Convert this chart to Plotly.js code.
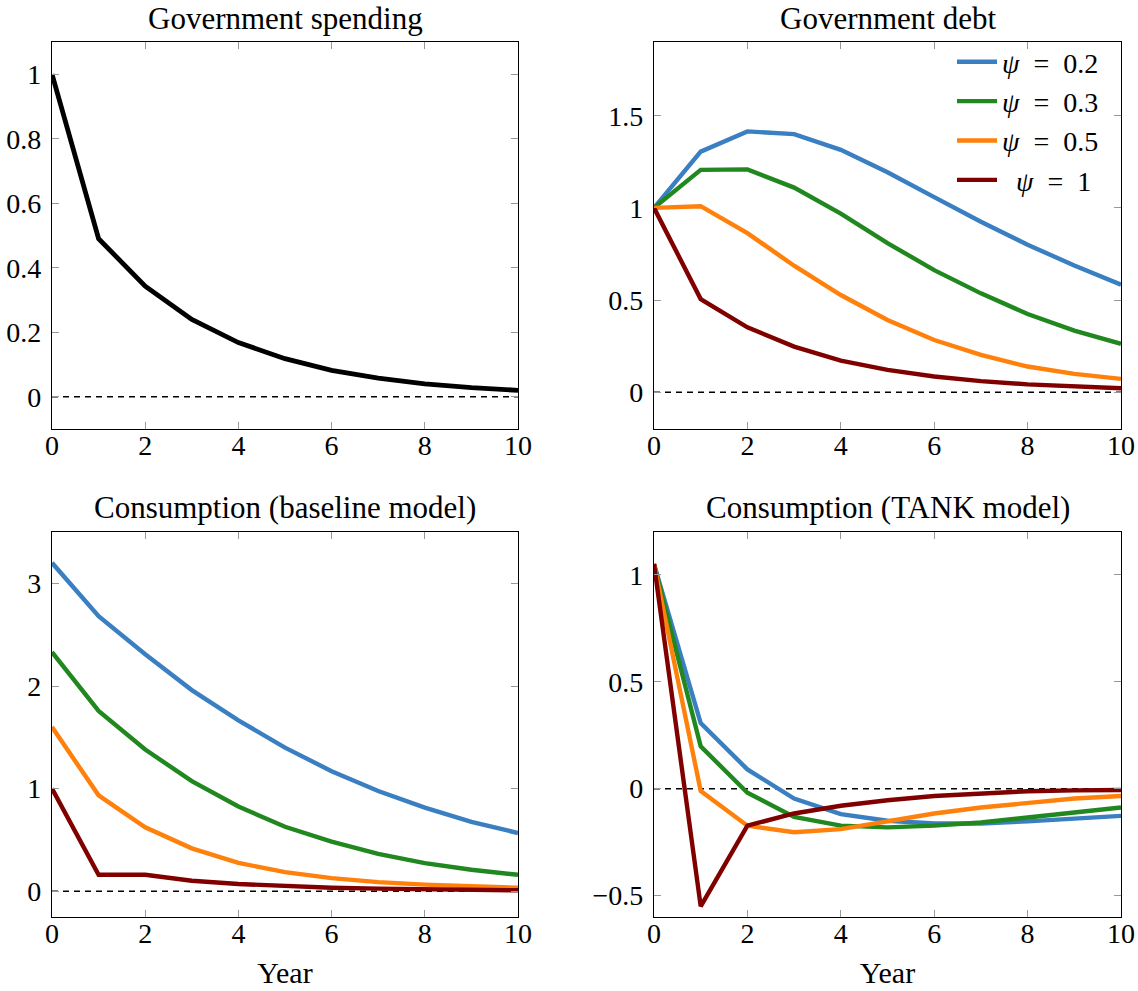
<!DOCTYPE html>
<html>
<head>
<meta charset="utf-8">
<script src="https://cdn.plot.ly/plotly-3.0.1.min.js"></script>
<style>html,body{margin:0;padding:0;background:#fff;}#chart{width:1138px;height:991px;}</style>
</head>
<body>
<div id="chart"></div>
<script>
// ---------- data ----------
const years = [0, 1, 2, 3, 4, 5, 6, 7, 8, 9, 10];
const seriesNames = ['<i>ψ</i>\u2002=\u20020.2', '<i>ψ</i>\u2002=\u20020.3', '<i>ψ</i>\u2002=\u20020.5', '\u2002<i>ψ</i>\u2002=\u20021'];
const seriesColors = ['#3a7fc1', '#21871f', '#ff800a', '#800000'];

const govSpending = [1.0, 0.49, 0.343, 0.24, 0.168, 0.118, 0.082, 0.058, 0.040, 0.028, 0.020];

const debtPsi02 = [1.0, 1.305, 1.415, 1.40, 1.315, 1.193, 1.058, 0.925, 0.80, 0.687, 0.583];
const debtPsi03 = [1.0, 1.206, 1.209, 1.11, 0.969, 0.809, 0.662, 0.536, 0.424, 0.334, 0.262];
const debtPsi05 = [1.0, 1.009, 0.863, 0.686, 0.527, 0.392, 0.283, 0.202, 0.139, 0.099, 0.072];
const debtPsi1  = [1.0, 0.505, 0.352, 0.247, 0.171, 0.121, 0.085, 0.060, 0.042, 0.030, 0.021];

const consBasePsi02 = [3.20, 2.68, 2.31, 1.96, 1.665, 1.40, 1.17, 0.977, 0.816, 0.677, 0.568];
const consBasePsi03 = [2.33, 1.758, 1.381, 1.074, 0.826, 0.629, 0.484, 0.365, 0.274, 0.21, 0.161];
const consBasePsi05 = [1.60, 0.935, 0.623, 0.419, 0.277, 0.187, 0.129, 0.09, 0.065, 0.048, 0.035];
const consBasePsi1  = [1.0, 0.161, 0.161, 0.103, 0.071, 0.050, 0.035, 0.026, 0.019, 0.013, 0.010];

const consTankPsi02 = [1.05, 0.307, 0.09, -0.046, -0.119, -0.15, -0.163, -0.163, -0.153, -0.139, -0.127];
const consTankPsi03 = [1.05, 0.198, -0.019, -0.132, -0.173, -0.181, -0.173, -0.158, -0.135, -0.111, -0.088];
const consTankPsi05 = [1.05, -0.011, -0.173, -0.204, -0.189, -0.15, -0.116, -0.088, -0.065, -0.046, -0.034];
const consTankPsi1  = [1.05, -0.55, -0.173, -0.116, -0.08, -0.054, -0.034, -0.022, -0.012, -0.008, -0.006];

const panelTitles = ['Government spending', 'Government debt', 'Consumption (baseline model)', 'Consumption (TANK model)'];
const xTicks = [0, 2, 4, 6, 8, 10];
const yTicks1 = [0, 0.2, 0.4, 0.6, 0.8, 1];
const yTicks2 = [0, 0.5, 1, 1.5];
const yTicks3 = [0, 1, 2, 3];
const yTicks4 = [-0.5, 0, 0.5, 1];
const yTickText4 = ['\u22120.5', '0', '0.5', '1'];
const xLabel = 'Year';

// ---------- layout geometry ----------
const W = 1138, H = 991;
const FONT = 'Liberation Serif, Times New Roman, serif';
const px = v => v / W;
const py = v => 1 - v / H;
const colL = [px(52), px(518)], colR = [px(654), px(1121)];
const rowT = [py(429), py(42)], rowB = [py(917), py(532)];

const traces = [];
const LW = 4.4;
traces.push({x: years, y: govSpending, xaxis: 'x', yaxis: 'y', mode: 'lines',
  line: {color: '#000', width: 4.8}, showlegend: false});

const debtSeries = [debtPsi02, debtPsi03, debtPsi05, debtPsi1];
const baseSeries = [consBasePsi02, consBasePsi03, consBasePsi05, consBasePsi1];
const tankSeries = [consTankPsi02, consTankPsi03, consTankPsi05, consTankPsi1];
debtSeries.forEach((s, i) => traces.push({x: years, y: s, xaxis: 'x2', yaxis: 'y2', mode: 'lines',
  name: seriesNames[i], line: {color: seriesColors[i], width: LW}, showlegend: true}));
baseSeries.forEach((s, i) => traces.push({x: years, y: s, xaxis: 'x3', yaxis: 'y3', mode: 'lines',
  line: {color: seriesColors[i], width: LW}, showlegend: false}));
tankSeries.forEach((s, i) => traces.push({x: years, y: s, xaxis: 'x4', yaxis: 'y4', mode: 'lines',
  line: {color: seriesColors[i], width: LW}, showlegend: false}));

const tickFont = {family: FONT, size: 28, color: '#000'};
function xa(domain, anchor, title) {
  const a = {domain: domain, anchor: anchor, range: [0, 10], tickvals: xTicks,
    ticks: 'inside', ticklen: 7, tickcolor: '#999', tickwidth: 1,
    showline: true, linecolor: '#000', linewidth: 1.2, mirror: 'ticks',
    showgrid: false, zeroline: false, tickfont: tickFont, ticklabelstandoff: -9, fixedrange: true};
  if (title) a.title = {text: title, font: {family: FONT, size: 30, color: '#000'}, standoff: 14};
  return a;
}
function ya(domain, anchor, range, vals, text) {
  const a = {domain: domain, anchor: anchor, range: range, tickvals: vals,
    ticks: 'inside', ticklen: 7, tickcolor: '#999', tickwidth: 1,
    showline: true, linecolor: '#000', linewidth: 1.2, mirror: 'ticks',
    showgrid: false, zeroline: false, tickfont: tickFont, ticklabelstandoff: 4, fixedrange: true};
  if (text) a.ticktext = text;
  return a;
}

const zeroShapes = ['', '2', '3', '4'].map(k => ({type: 'line', xref: 'x' + k + ' domain', yref: 'y' + k,
  x0: 0, x1: 1, y0: 0, y1: 0, line: {color: '#000', width: 1.5, dash: '6px,5px'}, layer: 'below'}));

const titlePos = [[(52 + 518) / 2, 18], [(654 + 1121) / 2, 18], [(52 + 518) / 2, 507], [(654 + 1121) / 2, 507]];
const annotations = panelTitles.map((t, i) => ({text: t, xref: 'paper', yref: 'paper',
  x: px(titlePos[i][0]), y: py(titlePos[i][1]), xanchor: 'center', yanchor: 'middle', showarrow: false,
  font: {family: FONT, size: 31, color: '#000'}}));

const layout = {
  width: W, height: H, margin: {l: 0, r: 0, t: 0, b: 0},
  paper_bgcolor: '#fff', plot_bgcolor: '#fff',
  showlegend: true,
  legend: {x: px(1104), y: py(37), xanchor: 'right', yanchor: 'top', bgcolor: 'rgba(255,255,255,0)',
    borderwidth: 0, font: {family: FONT, size: 28, color: '#000'}, itemwidth: 40, tracegroupgap: 0},
  xaxis: xa(colL, 'y'), yaxis: ya(rowT, 'x', [-0.1, 1.1], yTicks1),
  xaxis2: xa(colR, 'y2'), yaxis2: ya(rowT, 'x2', [-0.2, 1.9], yTicks2),
  xaxis3: xa(colL, 'y3', xLabel), yaxis3: ya(rowB, 'x3', [-0.25, 3.5], yTicks3),
  xaxis4: xa(colR, 'y4', xLabel), yaxis4: ya(rowB, 'x4', [-0.6, 1.2], yTicks4, yTickText4),
  shapes: zeroShapes, annotations: annotations
};

Plotly.newPlot('chart', traces, layout, {displayModeBar: false, staticPlot: true});
</script>
</body>
</html>
